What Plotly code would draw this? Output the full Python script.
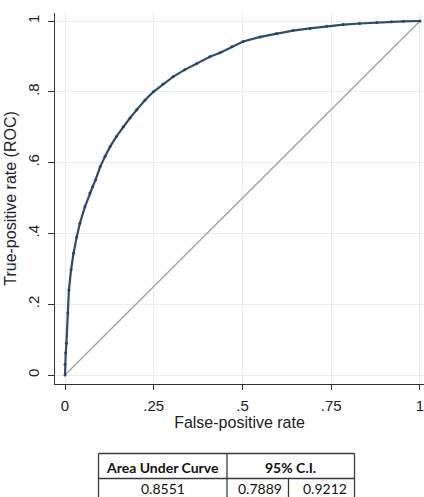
import plotly.graph_objects as go

# ROC curve points (false-positive rate, true-positive rate)
fpr = [0.0, 0.0, 0.002, 0.004, 0.008, 0.011, 0.017, 0.024, 0.033, 0.042, 0.056,
       0.070, 0.078, 0.086, 0.099, 0.113, 0.127, 0.145, 0.164, 0.183, 0.202,
       0.225, 0.249, 0.276, 0.305, 0.337, 0.371, 0.408, 0.437, 0.470, 0.502,
       0.550, 0.596, 0.642, 0.690, 0.737, 0.784, 0.830, 0.878, 0.920, 0.953, 1.0]
tpr = [0.0, 0.030, 0.062, 0.090, 0.175, 0.240, 0.297, 0.344, 0.390, 0.429, 0.475,
       0.514, 0.532, 0.551, 0.588, 0.618, 0.645, 0.674, 0.701, 0.726, 0.749,
       0.776, 0.800, 0.822, 0.843, 0.862, 0.880, 0.899, 0.910, 0.927, 0.942,
       0.955, 0.965, 0.973, 0.979, 0.985, 0.990, 0.993, 0.996, 0.998, 0.999, 1.0]

# chance line
ref_x = [0, 1]
ref_y = [0, 1]

x_ticks = [0, 0.25, 0.5, 0.75, 1]
x_tick_labels = ["0", ".25", ".5", ".75", "1"]
y_ticks = [0, 0.2, 0.4, 0.6, 0.8, 1]
y_tick_labels = ["0", ".2", ".4", ".6", ".8", "1"]

# summary table
auc_header = "Area Under Curve"
ci_header = "95% C.I."
auc_value = "0.8551"
ci_lower = "0.7889"
ci_upper = "0.9212"

W, H = 424, 497
ML, MR, MT, MB = 55, 0, 13, 113

AXIS_FONT = dict(family="Liberation Sans, Arial, sans-serif", size=15, color="#222222")
NAVY = "#1a476f"

fig = go.Figure()
fig.add_trace(go.Scatter(
    x=ref_x, y=ref_y, mode="lines",
    line=dict(color="#95a3a3", width=1.3),
    hoverinfo="skip", showlegend=False,
))
fig.add_trace(go.Scatter(
    x=fpr, y=tpr, mode="lines+markers",
    line=dict(color="#2f4d6b", width=2.2),
    marker=dict(color=NAVY, size=3, line=dict(width=0)),
    showlegend=False,
))

fig.update_layout(
    width=W, height=H,
    margin=dict(l=ML, r=MR, t=MT, b=MB),
    paper_bgcolor="white", plot_bgcolor="white",
    font=AXIS_FONT,
    xaxis=dict(
        range=[-0.0282, 1.0113], tickvals=x_ticks, ticktext=x_tick_labels,
        showline=True, linecolor="#333333", linewidth=1.3,
        ticks="outside", ticklen=5, tickcolor="#333333", tickwidth=1.2,
        showgrid=True, gridcolor="#e7eef1", gridwidth=1,
        zeroline=False, ticklabelstandoff=3, ticklabeloverflow="allow",
        title=dict(text="False-positive rate", font=dict(size=16), standoff=0),
    ),
    yaxis=dict(
        range=[-0.0254, 1.0226], tickvals=y_ticks, ticktext=y_tick_labels,
        tickangle=-90,
        showline=True, linecolor="#333333", linewidth=1.3,
        ticks="outside", ticklen=6, tickcolor="#333333", tickwidth=1.2,
        showgrid=True, gridcolor="#e7eef1", gridwidth=1,
        zeroline=False, ticklabelstandoff=3, ticklabeloverflow="allow",
        title=dict(text="True-positive rate (ROC)", font=dict(size=16), standoff=4),
    ),
)

# table drawn below the plot in pixel-based paper coordinates
def px(xp):
    return (xp - ML) / (W - ML - MR)

def py(yp):
    return (H - MB - yp) / (H - MT - MB)

tbl_left, tbl_mid, tbl_inner, tbl_right = 98.5, 227, 288.5, 354.5
tbl_top, tbl_div, tbl_bot = 453.5, 478.5, 503
border = dict(color="#3a3a3a", width=1.3)
for (x0, y0, x1, y1) in [
    (tbl_left, tbl_top, tbl_right, tbl_top),
    (tbl_left, tbl_div, tbl_right, tbl_div),
    (tbl_left, tbl_bot, tbl_right, tbl_bot),
    (tbl_left, tbl_top, tbl_left, tbl_bot),
    (tbl_mid, tbl_top, tbl_mid, tbl_bot),
    (tbl_right, tbl_top, tbl_right, tbl_bot),
    (tbl_inner, tbl_div, tbl_inner, tbl_bot),
]:
    fig.add_shape(type="line", xref="paper", yref="paper",
                  x0=px(x0), y0=py(y0), x1=px(x1), y1=py(y1), line=border)

TABLE_FONT = dict(family="Lato, Carlito, Calibri, sans-serif", size=14, color="#111111")
cells = [
    ((tbl_left + tbl_mid) / 2, 467, f"<b>{auc_header}</b>"),
    ((tbl_mid + tbl_right) / 2, 467, f"<b>{ci_header}</b>"),
    ((tbl_left + tbl_mid) / 2, 488.5, auc_value),
    ((tbl_mid + tbl_inner) / 2 + 2, 488.5, ci_lower),
    ((tbl_inner + tbl_right) / 2 + 3, 488.5, ci_upper),
]
for cx, cy, txt in cells:
    fig.add_annotation(xref="paper", yref="paper", x=px(cx), y=py(cy),
                       text=txt, showarrow=False, font=TABLE_FONT,
                       xanchor="center", yanchor="middle")

fig.write_html("out.html")
